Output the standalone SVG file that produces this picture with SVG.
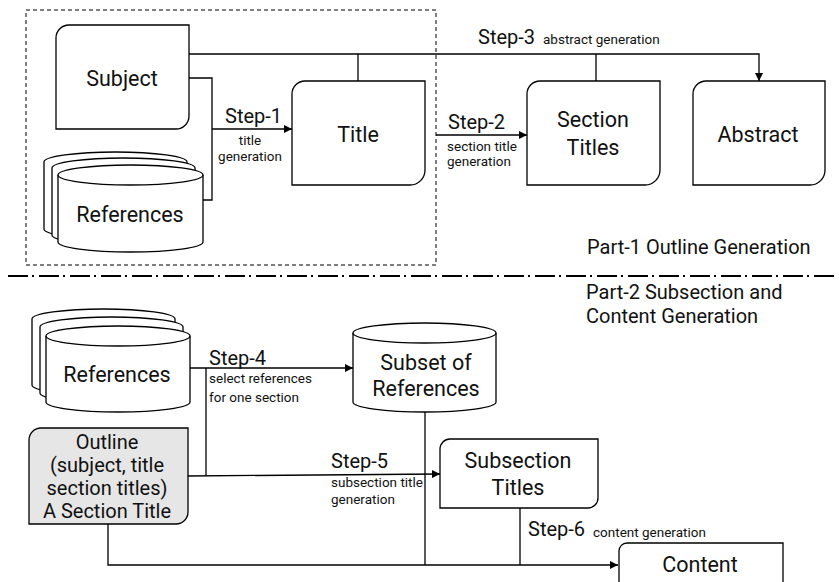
<svg xmlns="http://www.w3.org/2000/svg" width="839" height="582" viewBox="0 0 839 582">
<defs>
<marker id="arr" viewBox="0 0 10 10" refX="10" refY="5" markerWidth="8" markerHeight="8" markerUnits="userSpaceOnUse" orient="auto">
<path d="M0,0 L10,5 L0,10 Z" fill="#000"/>
</marker>
<style>
.node{fill:#fff;stroke:#000;stroke-width:1.3}
.gray{fill:#e6e6e6;stroke:#000;stroke-width:1.3}
.ln{fill:none;stroke:#000;stroke-width:1.3}
.t{font-family:Roboto,"Noto Sans",sans-serif;fill:#111}
.big{font-size:21.5px;text-anchor:middle}
.mid{font-size:20px;text-anchor:middle}
.step{font-size:20px}
.sm{font-size:13.5px}
.part{font-size:20px}
</style>
</defs>
<rect x="26" y="10" width="410" height="255" fill="none" stroke="#000" stroke-width="1" stroke-dasharray="4,3"/>
<line x1="8" y1="276" x2="836" y2="276" stroke="#000" stroke-width="2" stroke-dasharray="20,4,2,5"/>
<g id="connectors">
<polyline class="ln" points="189,54 759,54 759,81" marker-end="url(#arr)"/>
<line class="ln" x1="358" y1="81" x2="358" y2="54"/>
<line class="ln" x1="596" y1="81" x2="596" y2="54"/>
<polyline class="ln" points="189,78 212,78 212,200 203,200"/>
<line class="ln" x1="212" y1="129" x2="292" y2="129" marker-end="url(#arr)"/>
<line class="ln" x1="436" y1="135" x2="527" y2="135" marker-end="url(#arr)"/>
<line class="ln" x1="190" y1="368" x2="353" y2="368" marker-end="url(#arr)"/>
<line class="ln" x1="206" y1="368" x2="206" y2="476"/>
<line class="ln" x1="188" y1="476" x2="440" y2="474" marker-end="url(#arr)"/>
<line class="ln" x1="425" y1="412" x2="425" y2="565"/>
<polyline class="ln" points="108,524 108,565 618,565" marker-end="url(#arr)"/>
<line class="ln" x1="520" y1="508" x2="520" y2="565"/>
</g>
<g id="subject">
<path class="node" d="M69,25 H189 V116 A13,13 0 0 1 176,129 H56 V38 A13,13 0 0 1 69,25 Z"/>
<text class="t big" x="122" y="86">Subject</text>
</g>
<g id="references1">
<path class="node" d="M44,162 A71.5,10 0 0 1 187,162 V229 A71.5,10 0 0 1 44,229 Z"/>
<path class="node" d="M52,168 A71.5,10 0 0 1 195,168 V235 A71.5,10 0 0 1 52,235 Z"/>
<path class="node" d="M58,175 A72.5,10 0 0 1 203,175 V242 A72.5,10 0 0 1 58,242 Z"/>
<path class="ln" d="M58,175 A72.5,10 0 0 0 203,175"/>
<text class="t big" x="130" y="222">References</text>
</g>
<g id="title">
<path class="node" d="M305,81 H425 V170 A15,15 0 0 1 410,185 H292 V94 A13,13 0 0 1 305,81 Z"/>
<text class="t big" x="358" y="142">Title</text>
</g>
<g id="section-titles">
<path class="node" d="M540,81 H660 V170 A15,15 0 0 1 645,185 H527 V94 A13,13 0 0 1 540,81 Z"/>
<text class="t big" x="593" y="127">Section</text>
<text class="t big" x="593" y="155">Titles</text>
</g>
<g id="abstract">
<path class="node" d="M706,81 H825 V170 A15,15 0 0 1 810,185 H693 V94 A13,13 0 0 1 706,81 Z"/>
<text class="t big" x="758" y="142">Abstract</text>
</g>
<g id="references2">
<path class="node" d="M32,319 A71.5,10 0 0 1 175,319 V385 A71.5,10 0 0 1 32,385 Z"/>
<path class="node" d="M40,327 A71.5,10 0 0 1 183,327 V393 A71.5,10 0 0 1 40,393 Z"/>
<path class="node" d="M46,336 A72,10 0 0 1 190,336 V402 A72,10 0 0 1 46,402 Z"/>
<path class="ln" d="M46,336 A72,10 0 0 0 190,336"/>
<text class="t big" x="117" y="382">References</text>
</g>
<g id="subset">
<path class="node" d="M353,333 A71.5,10 0 0 1 496,333 V402 A71.5,10 0 0 1 353,402 Z"/>
<path class="ln" d="M353,333 A71.5,10 0 0 0 496,333"/>
<text class="t big" x="426" y="370">Subset of</text>
<text class="t big" x="426" y="396">References</text>
</g>
<g id="outline">
<path class="gray" d="M41,428 H188 V512 A12,12 0 0 1 176,524 H29 V440 A12,12 0 0 1 41,428 Z"/>
<text class="t mid" x="107" y="449">Outline</text>
<text class="t mid" x="107" y="472">(subject, title</text>
<text class="t mid" x="107" y="495">section titles)</text>
<text class="t mid" x="107" y="518">A Section Title</text>
</g>
<g id="subsection-titles">
<path class="node" d="M450,439 H598 V498 A10,10 0 0 1 588,508 H440 V449 A10,10 0 0 1 450,439 Z"/>
<text class="t big" x="518" y="468">Subsection</text>
<text class="t big" x="518" y="495">Titles</text>
</g>
<g id="content">
<path class="node" d="M627,543 H783 V590 H619 V551 A8,8 0 0 1 627,543 Z"/>
<text class="t big" x="700" y="572">Content</text>
</g>
<g id="labels">
<text class="t step" x="225" y="123">Step-1</text>
<text class="t sm" x="250" y="144.5" text-anchor="middle">title</text>
<text class="t sm" x="250" y="160.5" text-anchor="middle">generation</text>
<text class="t step" x="448" y="129">Step-2</text>
<text class="t sm" x="447" y="151">section title</text>
<text class="t sm" x="447" y="166">generation</text>
<text class="t step" x="478" y="44">Step-3</text>
<text class="t sm" x="543" y="44">abstract generation</text>
<text class="t part" x="587" y="254">Part-1 Outline Generation</text>
<text class="t part" x="586" y="299">Part-2 Subsection and</text>
<text class="t part" x="586" y="323">Content Generation</text>
<text class="t step" x="209" y="365">Step-4</text>
<text class="t sm" x="209" y="383">select references</text>
<text class="t sm" x="209" y="402">for one section</text>
<text class="t step" x="331" y="468">Step-5</text>
<text class="t sm" x="331" y="487">subsection title</text>
<text class="t sm" x="331" y="504">generation</text>
<text class="t step" x="528" y="536">Step-6</text>
<text class="t sm" x="593" y="537">content generation</text>
</g>
</svg>
